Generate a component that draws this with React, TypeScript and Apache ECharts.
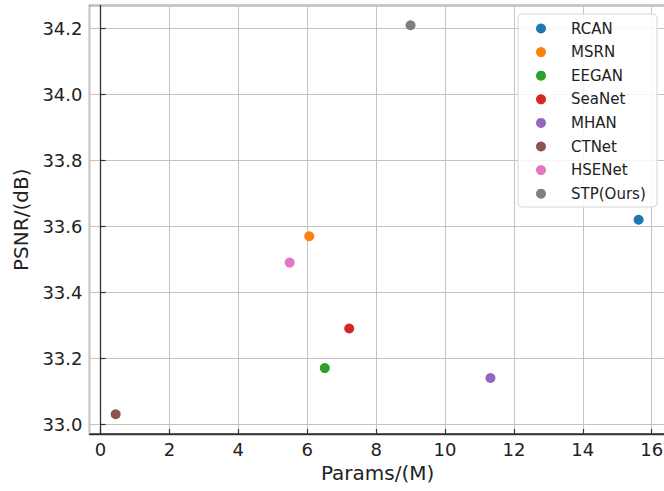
import React, { useEffect, useRef } from "react";
import * as echarts from "echarts";

const models = ["RCAN", "MSRN", "EEGAN", "SeaNet", "MHAN", "CTNet", "HSENet", "STP(Ours)"];
const params = [15.62, 6.06, 6.51, 7.22, 11.32, 0.44, 5.49, 9.0];
const psnr = [33.62, 33.57, 33.17, 33.29, 33.14, 33.03, 33.49, 34.21];
const colors = ["#1f77b4", "#ff7f0e", "#2ca02c", "#d62728", "#9467bd", "#8c564b", "#e377c2", "#7f7f7f"];

const FONT = "DejaVu Sans";

export default function App() {
  const ref = useRef<HTMLDivElement>(null);
  useEffect(() => {
    document.body.style.margin = "0";
    document.body.style.overflow = "hidden";
    const chart = echarts.init(ref.current!, null, { renderer: "svg" });
    const axisCommon = {
      type: "value" as const,
      axisLine: { show: true, lineStyle: { color: "#333", width: 1.3 } },
      axisTick: { show: true, inside: true, length: 5, lineStyle: { color: "#333", width: 1.2 } },
      splitLine: { show: true, lineStyle: { color: "#c4c4c4", width: 1 } },
      nameLocation: "middle" as const,
      nameTextStyle: { fontFamily: FONT, fontSize: 20, color: "#222" },
    };
    chart.setOption({
      animation: false,
      grid: {
        left: 89.5,
        top: 5.5,
        width: 576.3,
        height: 428.5,
        show: true,
        borderColor: "#333",
        borderWidth: 1.3,
        backgroundColor: "transparent",
      },
      xAxis: {
        ...axisCommon,
        min: -0.32,
        max: 16.41,
        minInterval: 2,
        maxInterval: 2,
        splitNumber: 8,
        name: "Params/(M)",
        nameGap: 29,
        axisLabel: {
          fontFamily: FONT,
          fontSize: 18,
          color: "#222",
          margin: 6,
          showMinLabel: false,
          showMaxLabel: false,
        },
      },
      yAxis: {
        ...axisCommon,
        min: 32.97,
        max: 34.27,
        minInterval: 0.2,
        maxInterval: 0.2,
        splitNumber: 6,
        name: "PSNR/(dB)",
        nameGap: 59,
        axisLabel: {
          fontFamily: FONT,
          fontSize: 18,
          color: "#222",
          margin: 7,
          showMinLabel: false,
          showMaxLabel: false,
          formatter: (v: number) => v.toFixed(1),
        },
      },
      legend: {
        orient: "vertical",
        left: 536,
        top: 21,
        padding: 0,
        itemWidth: 50,
        itemHeight: 10,
        itemGap: 8.6,
        icon: "circle",
        z: 5,
        textStyle: { fontFamily: FONT, fontSize: 15, color: "#222", lineHeight: 15 },
        data: models,
      },
      graphic: [
        {
          type: "rect",
          z: 4,
          shape: { x: 518, y: 14, width: 139, height: 193, r: 4 },
          style: { fill: "rgba(255,255,255,0.85)", stroke: "#d6d6d6", lineWidth: 1 },
        },
      ],
      series: models.map((m, i) => ({
        type: "scatter",
        name: m,
        symbolSize: 10,
        itemStyle: { color: colors[i], opacity: 1 },
        data: [[params[i], psnr[i]]],
        z: 3,
      })),
    });
    return () => chart.dispose();
  }, []);
  return <div ref={ref} style={{ width: 680, height: 491 }} />;
}
